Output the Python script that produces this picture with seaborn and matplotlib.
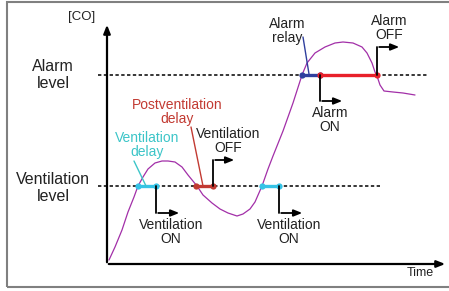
import numpy as np
import pandas as pd
import seaborn as sns
import matplotlib.pyplot as plt
from matplotlib.patches import Rectangle

# -----------------------------
# Data (time / CO)
# -----------------------------
curve_time = [2, 8, 15, 21, 27, 31, 36, 41, 48, 55, 61, 68, 75, 81, 90, 96,
              105, 113, 121, 130, 136, 143, 148, 155, 161, 166, 176, 186, 195,
              200, 208, 218, 228, 236, 246, 255, 260, 265, 268, 270, 273, 277,
              286, 296, 308]
curve_co = [4, 17, 34, 52, 67, 78, 87, 95, 101, 103, 103, 102, 97, 89, 78, 69,
            61, 55, 51, 48, 50, 55, 62, 78, 95, 108, 133, 161, 189,
            201, 211, 217, 221, 222, 221, 217, 211, 201, 192, 188, 179, 173,
            172, 171, 169]

vent_level = 78
alarm_level = 189

vent_delay_1 = [31, 49]
postvent_delay = [89, 106]
vent_delay_2 = [155, 172]
alarm_relay = [195, 213]
alarm_on = [213, 270]

# colours
c_curve = "#a22fa8"
c_vent = "#35c3e6"
c_vent_txt = "#3cc5c8"
c_post = "#c23a32"
c_relay = "#2f3f9e"
c_alarm = "#e8202a"

sns.set_style("white")
plt.rcParams['font.family'] = ['Liberation Sans', 'DejaVu Sans']

fig = plt.figure(figsize=(4.49, 2.91), dpi=100)
ax = fig.add_axes([0, 0, 1, 1])
ax.set_xlim(-107, 342)
ax.set_ylim(-27, 264)
ax.axis("off")

# outer frame
fig.patches.append(Rectangle((7 / 449, 4 / 291), 1.2, 285 / 291, transform=fig.transFigure,
                             fill=False, edgecolor="#808080", lw=1.5))

# axes with arrows
ax.annotate("", xy=(0, 242), xytext=(0, -1),
            arrowprops=dict(arrowstyle="-|>,head_length=0.5,head_width=0.2", lw=1.6, color="black"))
ax.annotate("", xy=(341, 0), xytext=(-1, 0),
            arrowprops=dict(arrowstyle="-|>,head_length=0.5,head_width=0.2", lw=1.6, color="black"))

# threshold lines
ax.hlines(vent_level, -9, 273, colors="black", linestyles=(0, (2.2, 1.6)), lw=1.1)
ax.hlines(alarm_level, -9, 321, colors="black", linestyles=(0, (2.2, 1.6)), lw=1.1)

# CO curve
df = pd.DataFrame({"time": curve_time, "co": curve_co})
sns.lineplot(data=df, x="time", y="co", sort=False, color=c_curve, lw=0.9, ax=ax)

# delay segments
for seg, lvl, col in [(vent_delay_1, vent_level, c_vent), (postvent_delay, vent_level, c_post),
                      (vent_delay_2, vent_level, c_vent), (alarm_relay, alarm_level, c_relay),
                      (alarm_on, alarm_level, c_alarm)]:
    sns.lineplot(x=seg, y=[lvl, lvl], color=col, lw=2.4, marker="o", markersize=4.5,
                 markeredgewidth=0, ax=ax)

# step arrows
def step_arrow(t, y0, y1, t1):
    ax.plot([t, t], [y0, y1], color="black", lw=1.3)
    ax.annotate("", xy=(t1, y1), xytext=(t - 0.6, y1),
                arrowprops=dict(arrowstyle="-|>,head_length=0.5,head_width=0.2", lw=1.3, color="black"))

step_arrow(vent_delay_1[1], vent_level, 51, 75)
step_arrow(postvent_delay[1], vent_level, 104, 130)
step_arrow(vent_delay_2[1], vent_level, 51, 198)
step_arrow(alarm_on[0], alarm_level, 163, 238)
step_arrow(alarm_on[1], alarm_level, 217, 295)

# leader lines
ax.plot([27, 39], [103, 78], color=c_vent_txt, lw=1.0)
ax.plot([84, 96], [137, 78], color=c_post, lw=1.0)
ax.plot([196, 202], [227, 190], color=c_relay, lw=1.0)

# labels
txt = dict(ha="center", va="center", linespacing=1.05, fontsize=10)
ax.text(64, 32, "Ventilation\nON", color="#222222", **txt)
ax.text(121, 123, "Ventilation\nOFF", color="#222222", **txt)
ax.text(182, 32, "Ventilation\nON", color="#222222", **txt)
ax.text(223, 144, "Alarm\nON", color="#222222", **txt)
ax.text(282, 236, "Alarm\nOFF", color="#222222", **txt)
ax.text(180, 233, "Alarm\nrelay", color="#222222", **txt)
ax.text(40, 119, "Ventilation\ndelay", color=c_vent_txt, **txt)
ax.text(70, 152, "Postventilation\ndelay", color=c_post, **txt)

ax.text(-25, 247, "[CO]", ha="center", va="center", fontsize=9.5, color="#222222")
ax.text(-54, 189, "Alarm\nlevel", ha="center", va="center", fontsize=11.5,
        linespacing=1.15, color="#222222")
ax.text(-54, 76, "Ventilation\nlevel", ha="center", va="center", fontsize=11.5,
        linespacing=1.15, color="#222222")
ax.text(313, -9, "Time", ha="center", va="center", fontsize=9, color="#222222")

fig.savefig("out.png", dpi=100)
